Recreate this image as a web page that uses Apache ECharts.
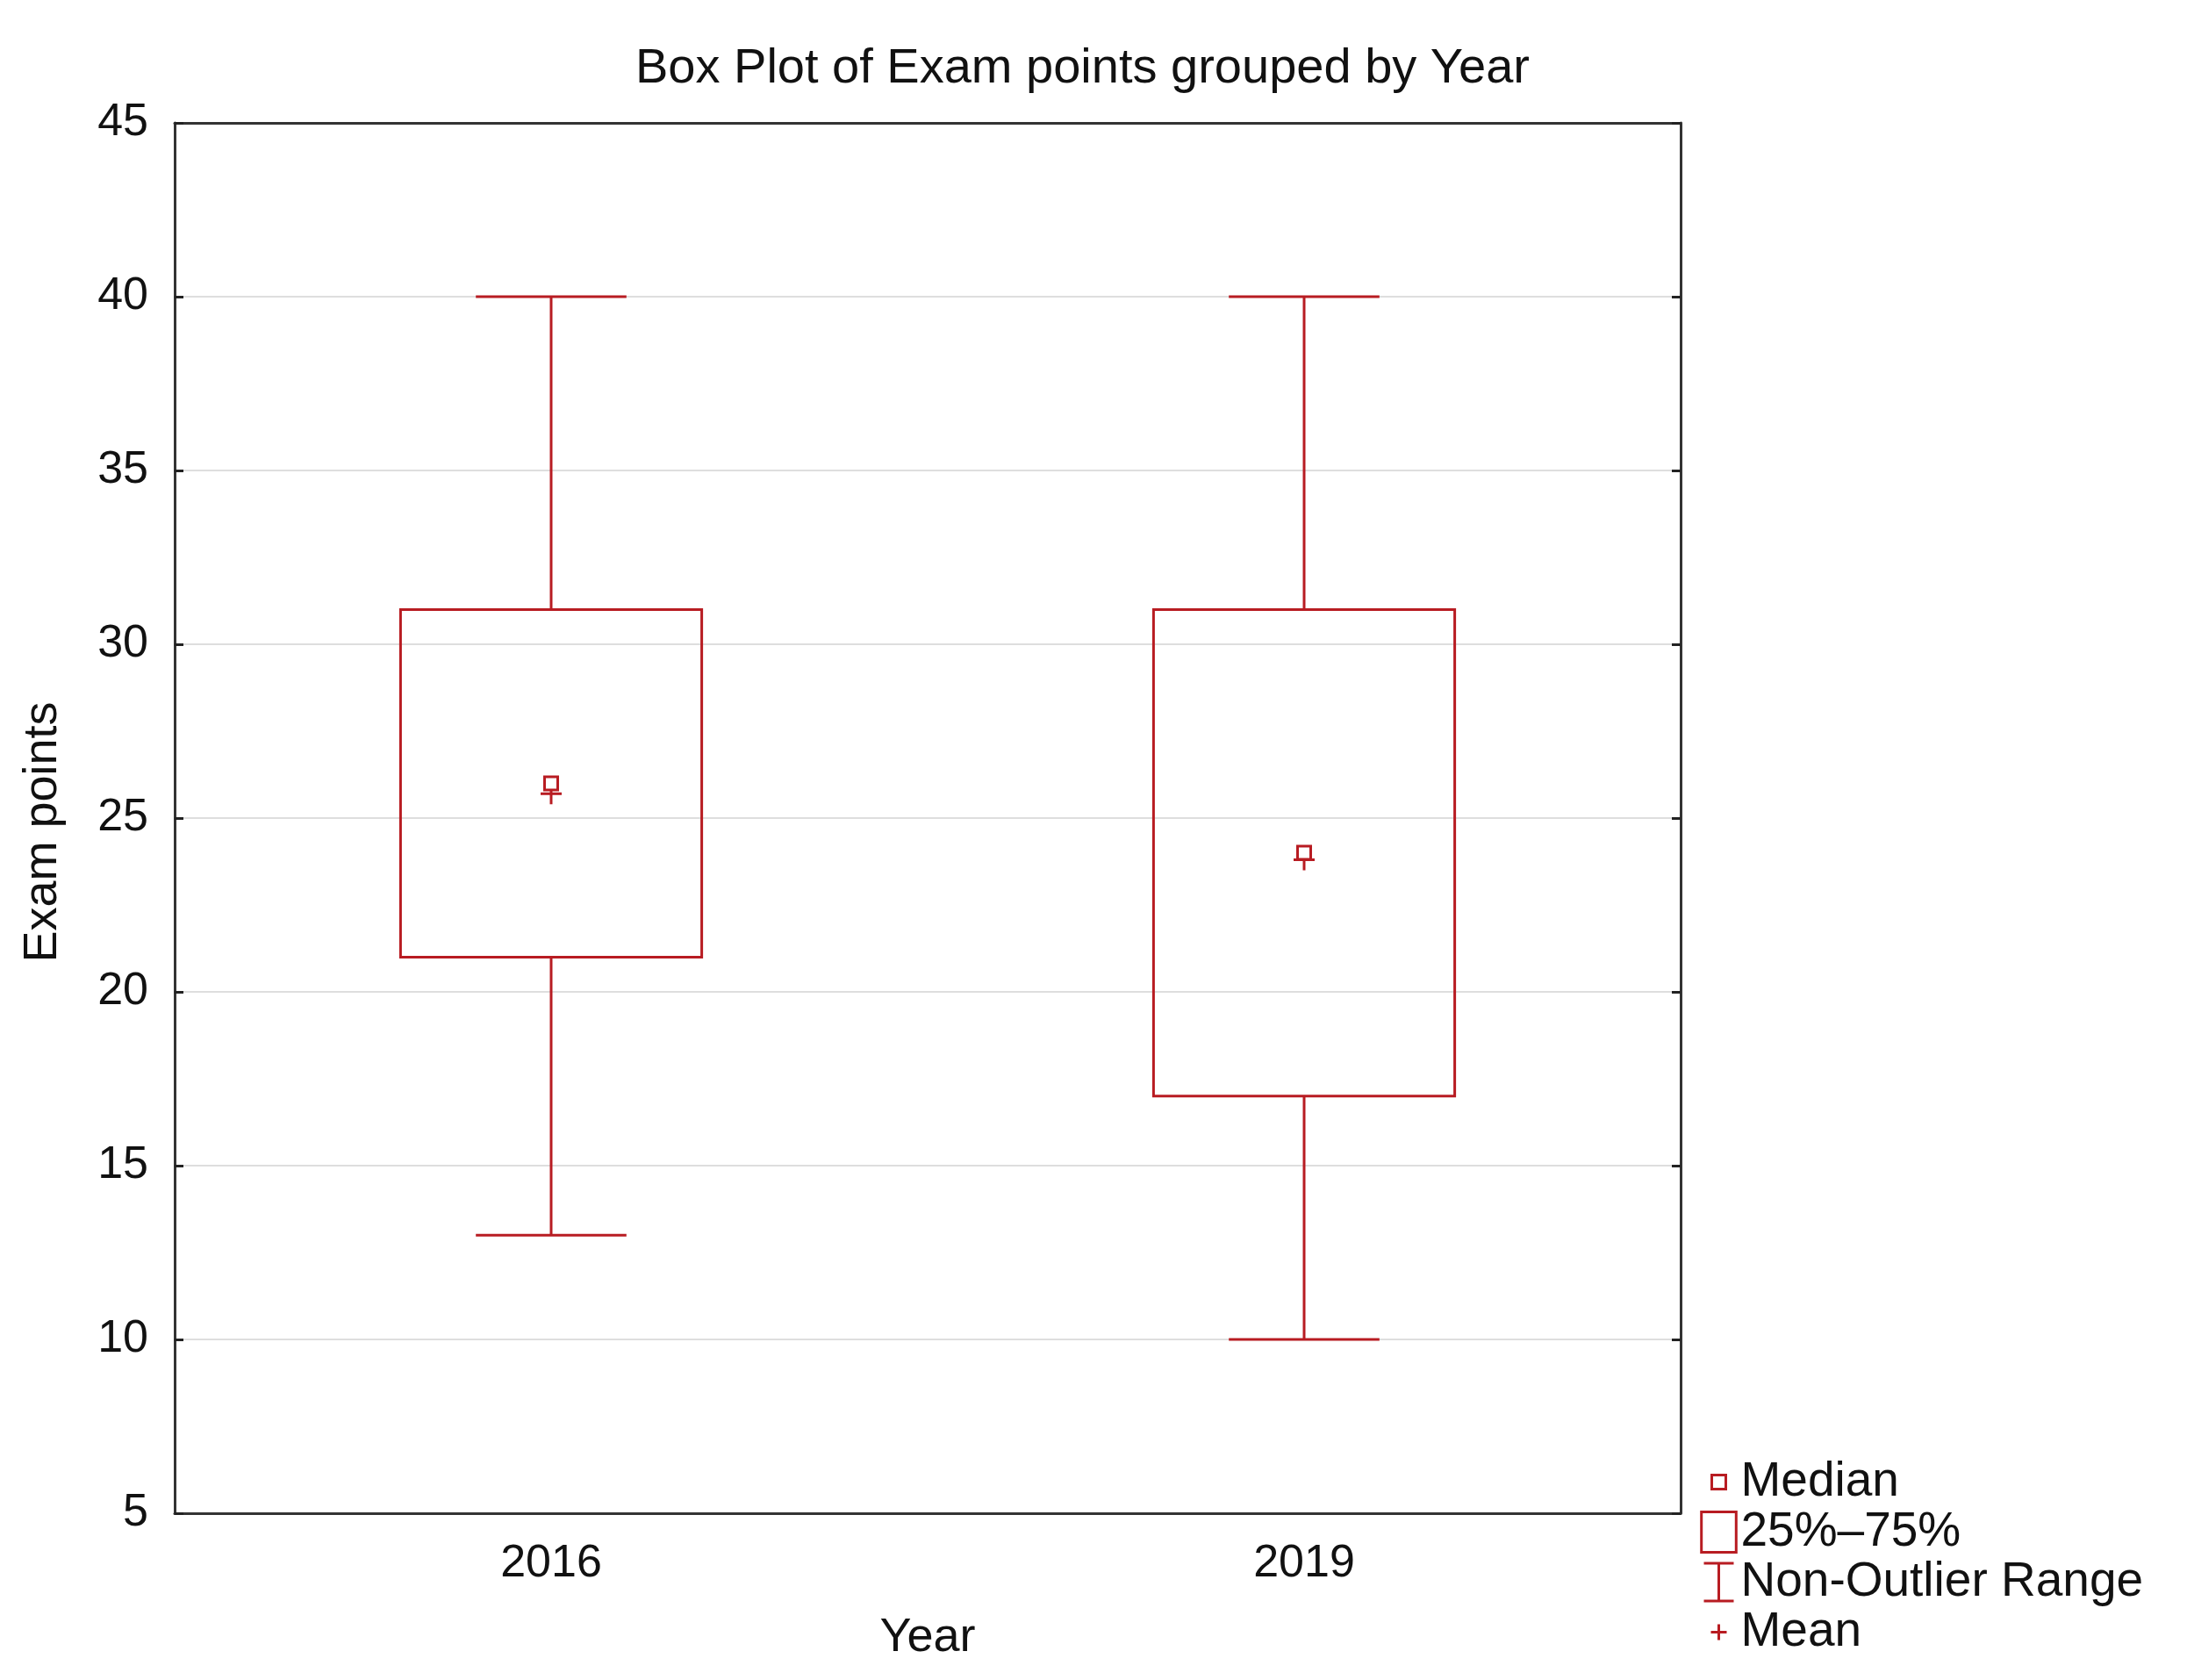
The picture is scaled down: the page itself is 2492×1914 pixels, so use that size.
<!DOCTYPE html>
<html>
<head>
<meta charset="utf-8">
<title>Box Plot of Exam points grouped by Year</title>
<script src="https://cdn.jsdelivr.net/npm/echarts@6/dist/echarts.min.js"></script>
<style>
  html, body { margin: 0; padding: 0; background: #fff; }
  #chart { width: 2492px; height: 1914px; }
</style>
</head>
<body>
<div id="chart"></div>
<script>
// data
var years = ["2016", "2019"];
var lowWhisker = [13, 10];
var q1 = [21, 17];
var median = [26, 24];
var q3 = [31, 31];
var highWhisker = [40, 40];
var mean = [25.7, 23.8];
var yTicks = { min: 5, max: 45, step: 5 };

var red = "#b81c22";
var font = "Liberation Sans";

var chart = echarts.init(document.getElementById("chart"));

var boxData = years.map(function (y, i) { return [i, q1[i], q3[i]]; });
var rangeData = years.map(function (y, i) { return [i, lowWhisker[i], q1[i], q3[i], highWhisker[i]]; });
var medianData = years.map(function (y, i) { return [i, median[i]]; });
var meanData = years.map(function (y, i) { return [i, mean[i]]; });

function bandWidth(api) {
  return api.size([1, 0])[0];
}

var option = {
  animation: false,
  backgroundColor: "#fff",
  textStyle: { fontFamily: font },
  title: {
    text: "Box Plot of Exam points grouped by Year",
    left: 724,
    top: 46,
    padding: [5, 0, 5, 0],
    textStyle: { fontSize: 56, fontWeight: "normal", color: "#111", fontFamily: font },
  },
  legend: {
    orient: "vertical",
    left: 1937,
    top: 1660,
    padding: 0,
    itemGap: 0,
    itemWidth: 40,
    itemHeight: 46,
    selectedMode: false,
    textStyle: { fontSize: 55, lineHeight: 57, color: "#111", fontFamily: font },
    itemStyle: { color: "rgba(0,0,0,0)", borderColor: red, borderWidth: 3 },
    data: [
      { name: "Median", icon: "path://M0,0M40,46M12,15h16v16h-16z" },
      { name: "25%–75%", icon: "path://M1.5,1.5h37v43h-37z" },
      { name: "Non-Outlier Range", icon: "path://M0,0M40,46M3,1.5h34M20,1.5v43M3,44.5h34" },
      { name: "Mean", icon: "path://M0,0M40,46M11,23h18M20,14v18" },
    ],
  },
  grid: { left: 199, right: 577, top: 140, bottom: 190 },
  xAxis: [
    {
      type: "category",
      data: years,
      boundaryGap: true,
      name: "Year",
      nameLocation: "middle",
      nameGap: 115,
      nameTextStyle: { fontSize: 54, color: "#111", fontFamily: font },
      axisLine: { lineStyle: { color: "#333", width: 3 } },
      axisTick: { inside: true, alignWithLabel: true, length: 10, lineStyle: { color: "#222", width: 3 } },
      axisLabel: { fontSize: 52, color: "#111", margin: 32, fontFamily: font },
      splitLine: { show: false },
    },
    {
      type: "category",
      data: years,
      position: "top",
      boundaryGap: true,
      axisLine: { lineStyle: { color: "#333", width: 3 } },
      axisTick: { inside: true, alignWithLabel: true, length: 10, lineStyle: { color: "#222", width: 3 } },
      axisLabel: { show: false },
      splitLine: { show: false },
    },
  ],
  yAxis: [
    {
      type: "value",
      min: yTicks.min,
      max: yTicks.max,
      interval: yTicks.step,
      name: "Exam points",
      nameLocation: "middle",
      nameGap: 123,
      nameTextStyle: { fontSize: 54, color: "#111", fontFamily: font, padding: [0, 32, 0, 0] },
      axisLine: { show: true, lineStyle: { color: "#333", width: 3 } },
      axisTick: { show: true, inside: true, length: 10, lineStyle: { color: "#222", width: 3 } },
      axisLabel: { fontSize: 52, color: "#111", margin: 30, fontFamily: font },
      splitLine: { show: true, lineStyle: { color: "#dedede", width: 2 } },
    },
    {
      type: "value",
      position: "right",
      min: yTicks.min,
      max: yTicks.max,
      interval: yTicks.step,
      axisLine: { show: true, lineStyle: { color: "#333", width: 3 } },
      axisTick: { show: true, inside: true, length: 10, lineStyle: { color: "#222", width: 3 } },
      axisLabel: { show: false },
      splitLine: { show: false },
    },
  ],
  series: [
    {
      name: "Median",
      type: "custom",
      z: 4,
      itemStyle: { color: red },
      encode: { x: 0, y: 1 },
      data: medianData,
      renderItem: function (params, api) {
        var p = api.coord([api.value(0), api.value(1)]);
        var s = 15;
        return {
          type: "rect",
          shape: { x: p[0] - s / 2, y: p[1] - s / 2, width: s, height: s },
          style: { fill: "#fff", stroke: red, lineWidth: 3 },
        };
      },
    },
    {
      name: "25%–75%",
      type: "custom",
      z: 2,
      itemStyle: { color: red },
      encode: { x: 0, y: [1, 2] },
      data: boxData,
      renderItem: function (params, api) {
        var top = api.coord([api.value(0), api.value(2)]);
        var bot = api.coord([api.value(0), api.value(1)]);
        var w = bandWidth(api) * 0.4;
        return {
          type: "rect",
          shape: { x: top[0] - w / 2, y: top[1], width: w, height: bot[1] - top[1] },
          style: { fill: "none", stroke: red, lineWidth: 3 },
        };
      },
    },
    {
      name: "Non-Outlier Range",
      type: "custom",
      z: 2,
      itemStyle: { color: red },
      encode: { x: 0, y: [1, 2, 3, 4] },
      data: rangeData,
      renderItem: function (params, api) {
        var x = api.value(0);
        var lo = api.coord([x, api.value(1)]);
        var b1 = api.coord([x, api.value(2)]);
        var b3 = api.coord([x, api.value(3)]);
        var hi = api.coord([x, api.value(4)]);
        var c = bandWidth(api) * 0.1;
        var st = { stroke: red, lineWidth: 3 };
        return {
          type: "group",
          children: [
            { type: "line", shape: { x1: lo[0], y1: lo[1], x2: b1[0], y2: b1[1] }, style: st },
            { type: "line", shape: { x1: b3[0], y1: b3[1], x2: hi[0], y2: hi[1] }, style: st },
            { type: "line", shape: { x1: lo[0] - c, y1: lo[1], x2: lo[0] + c, y2: lo[1] }, style: st },
            { type: "line", shape: { x1: hi[0] - c, y1: hi[1], x2: hi[0] + c, y2: hi[1] }, style: st },
          ],
        };
      },
    },
    {
      name: "Mean",
      type: "custom",
      z: 3,
      itemStyle: { color: red },
      encode: { x: 0, y: 1 },
      data: meanData,
      renderItem: function (params, api) {
        var p = api.coord([api.value(0), api.value(1)]);
        var a = 12;
        var st = { stroke: red, lineWidth: 3 };
        return {
          type: "group",
          children: [
            { type: "line", shape: { x1: p[0] - a, y1: p[1], x2: p[0] + a, y2: p[1] }, style: st },
            { type: "line", shape: { x1: p[0], y1: p[1] - a, x2: p[0], y2: p[1] + a }, style: st },
          ],
        };
      },
    },
  ],
};

chart.setOption(option);
</script>
</body>
</html>
